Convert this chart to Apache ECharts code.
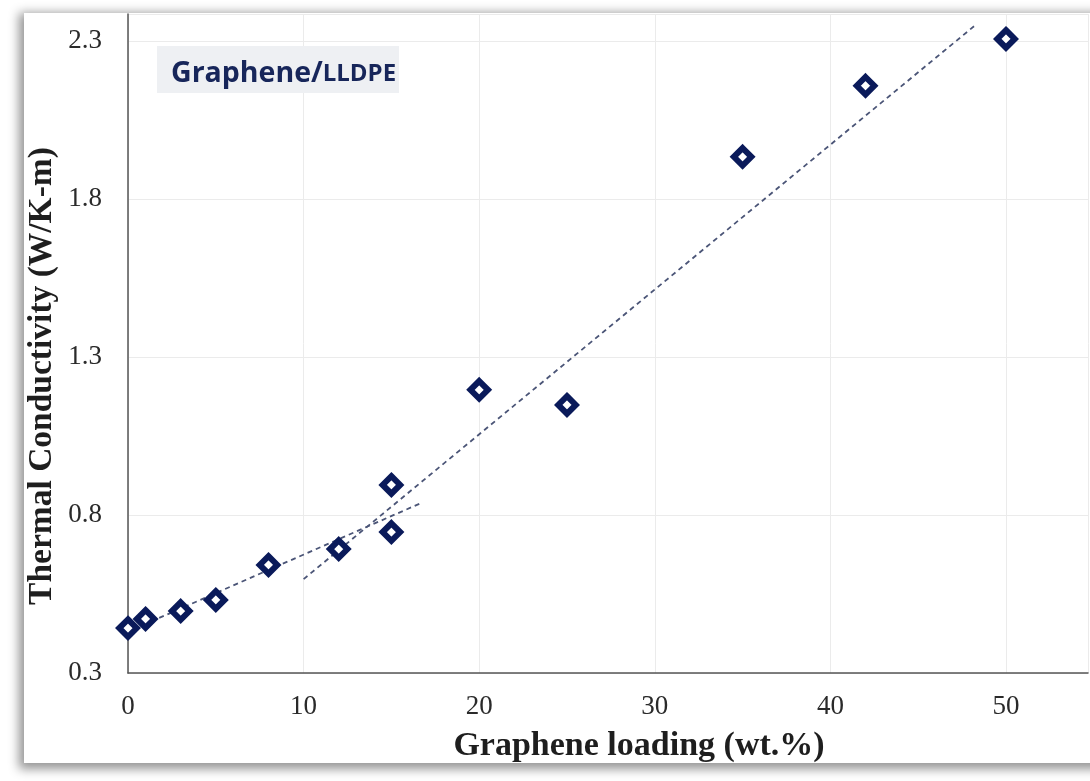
<!DOCTYPE html>
<html>
<head>
<meta charset="utf-8">
<script src="https://cdn.jsdelivr.net/npm/echarts@6/dist/echarts.min.js"></script>
<style>
  html, body { margin:0; padding:0; width:1090px; height:781px; overflow:hidden; background:#ffffff; }
  #frame { position:absolute; left:24px; top:13px; width:1100px; height:750px; background:#ffffff;
           box-shadow: -2px 3px 10px 3px rgba(0,0,0,0.42); }
  #chart { position:absolute; left:0; top:0; width:1090px; height:781px; }
</style>
</head>
<body>
<div id="frame"></div>
<div id="chart"></div>
<script>
// Data
const loading = [0, 1, 3, 5, 8, 12, 15, 15, 20, 25, 35, 42, 50];
const conductivity = [0.442, 0.471, 0.496, 0.531, 0.642, 0.692, 0.746, 0.895, 1.196, 1.148, 1.933, 2.158, 2.306];
const trendLowX = [-0.57, 16.7];
const trendLowY = [0.417, 0.838];
const trendHighX = [10, 48.26];
const trendHighY = [0.597, 2.35];
const xTicks = [0, 10, 20, 30, 40, 50];
const yTicks = [0.3, 0.8, 1.3, 1.8, 2.3];
const xTitle = 'Graphene loading (wt.%)';
const yTitle = 'Thermal Conductivity (W/K-m)';

const pts = loading.map((x, i) => [x, conductivity[i]]);
const t1 = trendLowX.map((x, i) => [x, trendLowY[i]]);
const t2 = trendHighX.map((x, i) => [x, trendHighY[i]]);

const chart = echarts.init(document.getElementById('chart'));
const serif = '"Liberation Serif", "Times New Roman", serif';
const sans = '"Open Sans", "Noto Sans", sans-serif';
chart.setOption({
  backgroundColor: 'transparent',
  animation: false,
  grid: { left: 128, top: 14, width: 960, height: 659, containLabel: false },
  xAxis: {
    type: 'value', min: 0, max: 54.67, interval: 10,
    axisLine: { show: true, lineStyle: { color: '#555', width: 1.5 } },
    axisTick: { show: false },
    splitLine: { show: true, lineStyle: { color: '#ebebeb', width: 1 } },
    axisLabel: { color: '#2a2a2a', fontFamily: serif, fontSize: 27, margin: 20, showMaxLabel: false,
      formatter: v => xTicks.includes(v) ? String(v) : '' }
  },
  yAxis: {
    type: 'value', min: 0.3, max: 2.385, interval: 0.5,
    axisLine: { show: true, lineStyle: { color: '#555', width: 1.5 } },
    axisTick: { show: false },
    splitLine: { show: true, lineStyle: { color: '#ebebeb', width: 1 } },
    axisLabel: { color: '#2a2a2a', fontFamily: serif, fontSize: 27, margin: 26, showMaxLabel: false,
      formatter: v => { const m = yTicks.find(t => Math.abs(t - v) < 1e-6); return m !== undefined ? m.toFixed(1) : ''; } }
  },
  graphic: [
    { type: 'rect', left: 157, top: 46, shape: { width: 242, height: 47 }, style: { fill: '#eef0f3' }, z: 10 },
    { type: 'text', left: 171, top: 59, z: 11,
      style: { text: '{a|Graphene/}{b|LLDPE}', rich: {
        a: { fontFamily: sans, fontWeight: 'bold', fontSize: 28.5, fill: '#17265a', verticalAlign: 'bottom', lineHeight: 36 },
        b: { fontFamily: sans, fontWeight: 'bold', fontSize: 24, fill: '#17265a', verticalAlign: 'bottom', lineHeight: 36, padding: [0, 0, 2, 0] }
      } } },
    { type: 'text', x: 639, y: 746, z: 11,
      style: { text: xTitle, fontFamily: serif, fontSize: 34, fontWeight: 'bold', fill: '#1e1e1e', align: 'center', verticalAlign: 'middle' } },
    { type: 'text', x: 42, y: 376, rotation: Math.PI / 2, z: 11,
      style: { text: yTitle, fontFamily: serif, fontSize: 33.5, fontWeight: 'bold', fill: '#1e1e1e', align: 'center', verticalAlign: 'middle' } }
  ],
  series: [
    { type: 'line', data: t1, showSymbol: false, clip: false, z: 2,
      lineStyle: { color: '#4b5577', width: 1.8, type: [5, 4] } },
    { type: 'line', data: t2, showSymbol: false, clip: false, z: 2,
      lineStyle: { color: '#4b5577', width: 1.8, type: [5, 4] } },
    { type: 'scatter', data: pts, symbol: 'diamond', symbolSize: 17.5, clip: false, z: 5,
      itemStyle: { color: '#ffffff', borderColor: '#0a1a5a', borderWidth: 6, opacity: 1 } }
  ]
});
</script>
</body>
</html>
